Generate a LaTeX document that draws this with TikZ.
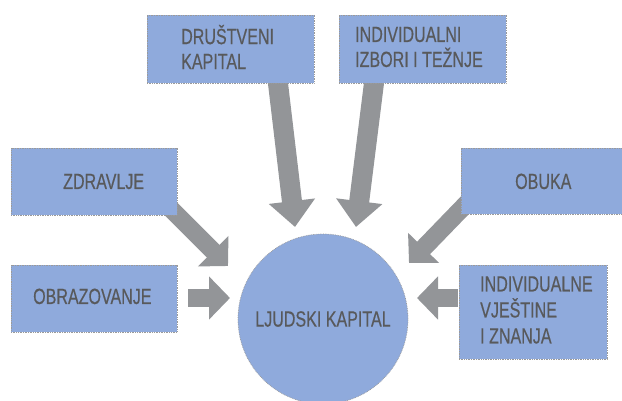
\documentclass[tikz,border=0pt]{standalone}
\usepackage{fontspec}
\setmainfont{Liberation Sans}[FakeStretch=0.73,FakeBold=0.4]
\usetikzlibrary{arrows.meta,backgrounds}
\definecolor{boxblue}{HTML}{8FAADC}
\definecolor{txtgray}{HTML}{58595B}
\definecolor{arrgray}{HTML}{939598}
\definecolor{edgegray}{HTML}{9A9A9A}
\begin{document}
\begin{tikzpicture}[x=1pt,y=-1pt,
  box/.style={rectangle, fill=boxblue, draw=edgegray, densely dotted, line width=0.7pt, inner sep=0pt},
  lbl/.style={font=\fontsize{22}{25}\selectfont, text=txtgray, inner sep=0pt, align=left},
  vblock/.style={draw=arrgray, line width=20pt, -{Triangle[width=45pt,length=26pt]}},
  sblock/.style={draw=arrgray, line width=18pt, -{Triangle[width=42pt,length=21pt]}}
]
\useasboundingbox (0,0) rectangle (622,401);
% boxes
\node[box, minimum width=167, minimum height=68] (dk) at (230.5,49) {};
\node[box, minimum width=167, minimum height=68] (ii) at (422.5,49) {};
\node[box, minimum width=166, minimum height=67] (zd) at (94,181.5) {};
\node[box, minimum width=166, minimum height=67] (ob) at (94,298.5) {};
\node[box, minimum width=161, minimum height=66] (ok) at (541.5,181) {};
\node[box, minimum width=148, minimum height=94] (iv) at (533,312) {};
\node[circle, fill=boxblue, draw=edgegray, densely dotted, line width=0.7pt, minimum size=170, inner sep=0pt,
      font=\fontsize{22}{25}\selectfont, text=txtgray] (lk) at (323,319) {LJUDSKI KAPITAL};
% labels
\node[lbl, anchor=west] (dkt) at (181,47) {DRUŠTVENI\\KAPITAL};
\node[lbl, anchor=west] (iit) at (355,47) {INDIVIDUALNI\\IZBORI I TEŽNJE};
\node[lbl, anchor=base west] (zdt) at (63,189) {ZDRAVLJE};
\node[lbl, anchor=base west] (obt) at (33,304) {OBRAZOVANJE};
\node[lbl, anchor=base west] (okt) at (515,189) {OBUKA};
\node[lbl, anchor=west, font=\fontsize{22}{26}\selectfont] (ivt) at (480,310) {INDIVIDUALNE\\VJEŠTINE\\I ZNANJA};
% arrow ends
\coordinate (s1) at (277,75);  \coordinate (t1) at (295,227);
\coordinate (s2) at (375,75);  \coordinate (t2) at (356,227);
\coordinate (s3) at (165,203); \coordinate (t3) at (228,266);
\coordinate (s4) at (188,298); \coordinate (t4) at (230,298);
\coordinate (s5) at (470,200); \coordinate (t5) at (409,263);
\coordinate (s6) at (458,298); \coordinate (t6) at (417,298);
\begin{scope}[on background layer]
\draw[vblock] (s1) -- (t1);
\draw[vblock] (s2) -- (t2);
\draw[sblock] (s3) -- (t3);
\draw[sblock, line width=17pt] (s4) -- (t4);
\draw[sblock] (s5) -- (t5);
\draw[sblock, line width=17pt] (s6) -- (t6);
\end{scope}
\end{tikzpicture}
\end{document}
